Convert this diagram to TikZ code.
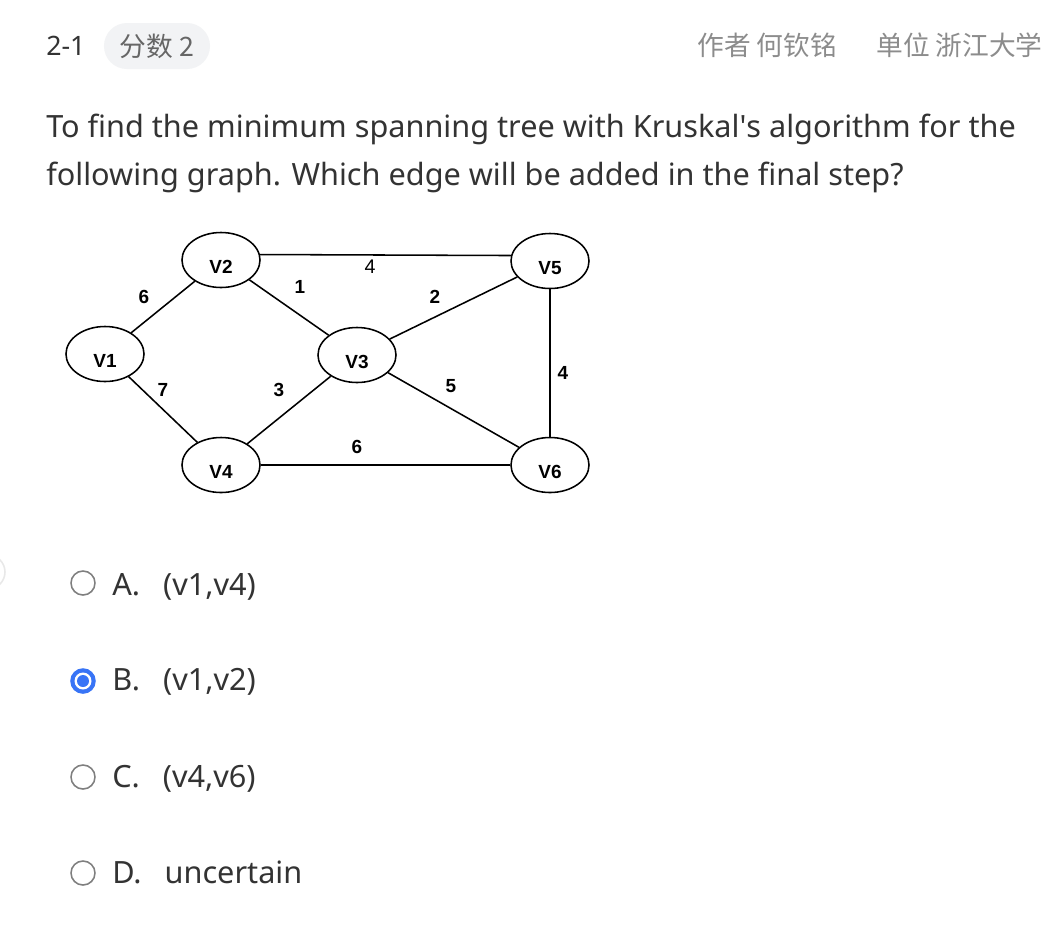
\documentclass[tikz,border=0pt]{standalone}
\usepackage{fontspec}
\setmainfont{Noto Sans}
\newfontfamily\cjk{Noto Sans CJK SC}
\newfontfamily\arialfont{Liberation Sans}
\usepackage{xcolor}
\usetikzlibrary{shapes.geometric, positioning}

\definecolor{inkdark}{HTML}{333333}
\definecolor{inkgrey}{HTML}{8C8C8C}
\definecolor{pillgrey}{HTML}{F2F3F5}
\definecolor{radiogrey}{HTML}{7F7F7F}
\definecolor{radioblue}{HTML}{3874F6}

\begin{document}
\begin{tikzpicture}[
        x=0.025cm, y=-0.025cm,
        vertex/.style={draw, ellipse, line width=1.1pt, inner sep=0pt,
            minimum width=1.95cm, minimum height=1.375cm,
            text height=19pt, text depth=0pt,
            font=\arialfont\bfseries\fontsize{13.5}{15}\selectfont},
        edge/.style={line width=1.1pt},
        wt/.style={inner sep=0pt, font=\arialfont\bfseries\fontsize{13.5}{15}\selectfont},
        head/.style={anchor=base west, inner sep=0pt, font=\fontsize{19}{22}\selectfont},
        pill/.style={fill=pillgrey, rounded corners=0.575cm,
            minimum width=2.65cm, minimum height=1.15cm, text=black!60},
        question/.style={anchor=base west, inner sep=0pt, text=inkdark,
            font=\fontsize{21.8}{28}\selectfont},
        radio/.style={circle, draw=radiogrey, line width=1.1pt, minimum size=0.6cm, inner sep=0pt},
        choice/.style={anchor=base west, inner sep=0pt, text=inkdark,
            font=\fontsize{21.8}{28}\selectfont}
    ]

    \useasboundingbox[fill=white] (0,0) rectangle (1058,950);

    % --- Header ---
    \node[head, text=inkdark] (num) at (46,55) {2-1};
    \node[pill, font=\cjk\fontsize{19}{22}\selectfont] (score) at (157,46) {分数 2};
    \node[head, text=inkgrey, font=\cjk\fontsize{19}{22}\selectfont] (author) at (697,55) {作者 何钦铭};
    \node[head, text=inkgrey, font=\cjk\fontsize{19}{22}\selectfont] (unit) at (876,55) {单位 浙江大学};

    % --- Question ---
    \node[question] (q1) at (46,137) {To find the minimum spanning tree with Kruskal\textquotesingle s algorithm for the};
    \node[question] (q2) at (46,185) {following graph. Which edge will be added in the final step?};

    % --- Graph ---
    \node[vertex] (V1) at (105,354) {V1};
    \node[vertex] (V2) at (221,260) {V2};
    \node[vertex] (V3) at (357,355) {V3};
    \node[vertex] (V4) at (221,465) {V4};
    \node[vertex] (V5) at (550,261) {V5};
    \node[vertex] (V6) at (550,465) {V6};

    \draw[edge] (V1) -- (V2);
    \draw[edge] (V1) -- (V4);
    \draw[edge] (V2) -- (V3);
    \draw[edge] (V2.8) -- (V5.172);
    \draw[edge] (V3) -- (V4);
    \draw[edge] (V3) -- (V5);
    \draw[edge] (V3) -- (V6);
    \draw[edge] (V4) -- (V6);
    \draw[edge] (V5) -- (V6);

    % edge weights
    \node[wt] (w12) at (144,297) {6};
    \node[wt] (w14) at (163,390) {7};
    \node[wt] (w23) at (300,287) {1};
    \node[wt] (w34) at (279,390) {3};
    \node[wt, font=\arialfont\fontsize{14}{15}\selectfont] (w25) at (370,267) {4};
    \node[wt] (w35) at (435,297) {2};
    \node[wt] (w36) at (451,386) {5};
    \node[wt] (w56) at (563,373) {4};
    \node[wt] (w46) at (357,447) {6};

    % --- Choices ---
    \draw[black!9, line width=1.1pt] (-12,572) circle (17);

    \node[radio] (ra) at (83,583) {};
    \node[radio, draw=radioblue, fill=radioblue] (rb) at (83,681) {};
    \fill[white] (rb.center) circle (8.5);
    \fill[radioblue] (rb.center) circle (6);
    \node[radio] (rc) at (83,777) {};
    \node[radio] (rd) at (83,873) {};

    \node[choice] (ca) at (112,595) {A.\hspace{0.75em}(v1,v4)};
    \node[choice] (cb) at (112,690) {B.\hspace{0.75em}(v1,v2)};
    \node[choice] (cc) at (112,787) {C.\hspace{0.75em}(v4,v6)};
    \node[choice] (cd) at (112,883) {D.\hspace{0.75em}uncertain};

\end{tikzpicture}
\end{document}
